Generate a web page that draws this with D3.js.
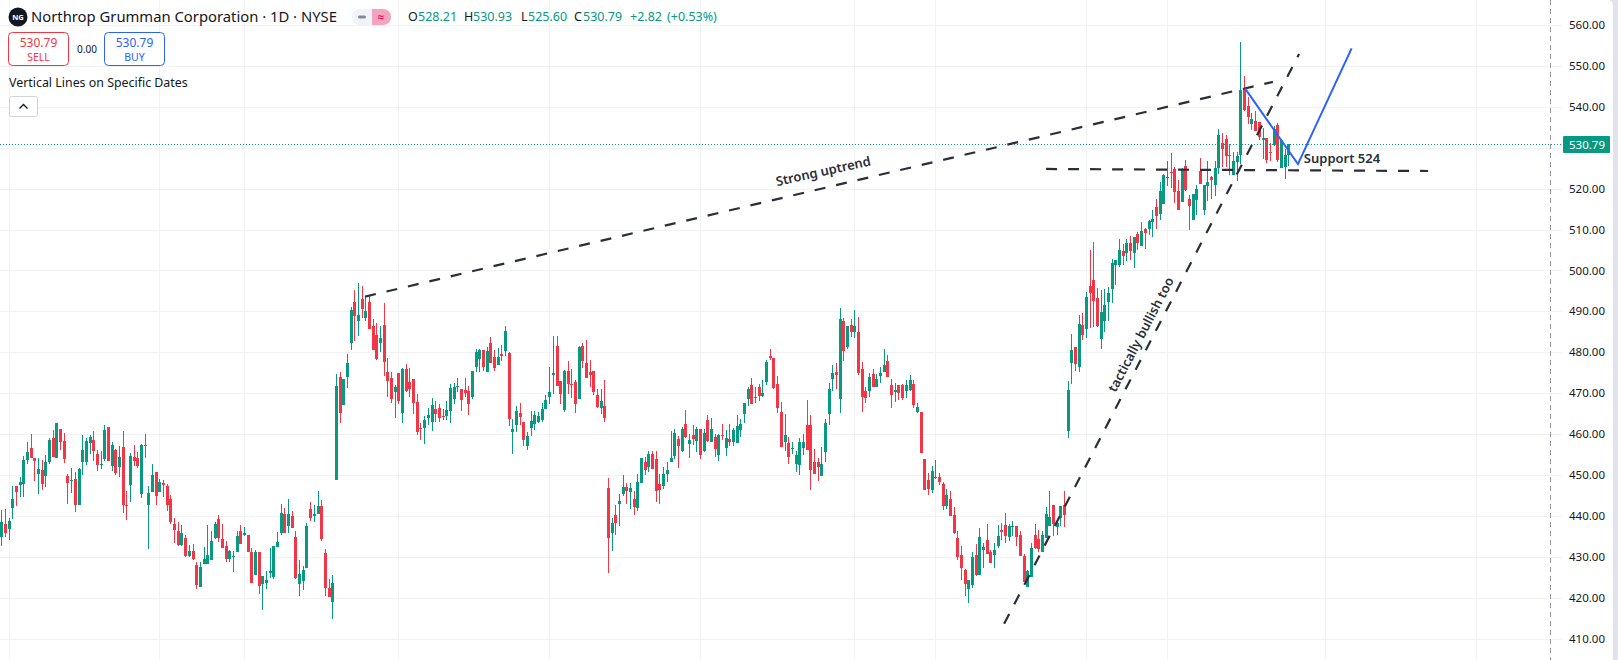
<!DOCTYPE html>
<html>
<head>
<meta charset="utf-8">
<script src="https://cdn.jsdelivr.net/npm/d3@7"></script>
<style>
    html, body { margin: 0; padding: 0; background: #e0e3eb; overflow: hidden; }
    svg { display: block; }
    text { font-family: "Noto Sans", Roboto, sans-serif; }
</style>
</head>
<body>
<svg id="main" width="1618" height="660"></svg>
<script>
// Price data, one bar per trading day
const opens = [
    434.9,438.0,436.8,442.0,447.3,447.6,447.8,453.7,456.6,454.2,
    450.3,451.2,449.8,453.2,459.1,454.2,461.3,458.3,449.8,448.5,
    449.0,442.7,453.2,453.2,457.8,458.6,455.2,452.5,453.9,461.8,
    452.2,456.1,452.0,456.9,442.7,447.6,454.4,454.2,445.4,457.4,
    442.7,445.9,450.8,445.9,448.1,447.3,444.2,438.0,436.3,432.9,
    434.6,430.2,431.4,428.0,422.6,428.3,428.3,429.2,434.6,439.3,
    434.4,432.7,429.5,430.0,431.2,436.3,435.3,435.3,431.2,425.6,
    431.2,423.4,423.6,426.0,425.1,432.4,435.8,440.5,437.5,440.0,
    434.9,423.4,424.1,427.3,441.7,440.0,440.5,442.4,430.9,422.4,
    419.0,448.8,474.0,467.2,474.0,482.3,492.3,487.7,493.1,488.4,
    492.3,486.5,484.3,482.3,486.7,475.2,473.8,470.3,475.0,465.2,
    476.0,472.8,473.5,467.9,461.5,461.5,464.0,463.0,466.2,466.4,
    464.5,464.5,465.7,468.6,471.6,471.1,470.8,470.6,469.1,476.4,
    478.4,480.6,475.2,482.3,478.9,476.9,479.6,480.4,479.9,460.6,
    462.3,465.2,463.0,457.0,461.5,462.5,463.0,463.5,466.2,469.1,
    474.5,481.6,473.0,465.9,475.5,472.3,472.8,468.6,481.6,477.4,
    475.2,475.5,469.6,466.4,466.9,446.7,435.7,440.1,442.8,445.3,
    447.0,445.7,444.0,441.8,448.0,453.1,451.9,455.1,453.9,447.7,
    447.2,450.2,453.1,454.6,458.8,455.8,462.4,457.5,459.7,458.2,
    461.2,455.8,463.4,458.0,459.2,454.8,459.7,456.5,458.7,458.0,
    457.8,461.0,464.9,468.6,472.0,469.1,471.5,469.3,472.7,479.1,
    478.6,472.2,465.4,458.0,457.8,456.3,452.6,452.4,456.5,462.2,
    462.2,453.1,453.1,449.7,455.6,464.9,473.5,475.2,468.6,487.7,
    481.3,486.7,485.0,485.0,475.9,470.5,470.5,474.7,471.5,474.2,
    475.2,477.9,472.0,470.3,472.0,472.0,470.6,470.8,472.3,465.4,
    465.4,454.0,448.8,446.4,449.3,449.5,447.8,442.5,444.2,440.3,
    434.6,430.5,426.8,422.2,423.1,430.5,425.6,431.7,434.2,431.2,
    430.5,432.7,436.6,437.8,434.9,437.2,437.4,435.4,430.2,422.7,
    425.1,435.4,434.4,431.2,434.6,437.6,442.7,437.3,439.5,442.7,
    460.8,477.4,481.3,476.5,486.7,485.7,496.2,497.7,493.3,483.3,
    487.7,492.3,495.5,501.4,501.4,504.8,504.3,506.7,504.3,508.9,
    506.0,510.1,510.1,511.9,515.5,513.8,516.3,522.6,524.0,524.8,
    519.4,516.7,525.5,517.4,512.3,517.2,524.3,514.8,520.6,522.8,
    520.9,525.0,531.1,532.1,528.2,523.3,526.5,528.2,544.7,540.1,
    535.7,536.5,536.2,531.8,532.3,528.9,530.6,535.5,525.0,525.2,528.21
];
const highs = [
    441.5,441.7,439.5,447.3,447.3,449.5,454.7,458.1,460.0,454.2,
    454.2,453.7,454.9,459.1,461.0,462.7,461.3,460.3,450.3,451.7,
    450.8,451.7,459.8,459.1,459.8,460.8,456.1,455.9,462.2,461.8,
    458.1,456.4,457.1,460.8,446.1,455.4,457.4,455.6,457.6,460.0,
    447.3,452.7,450.8,449.0,448.8,447.8,445.1,439.5,438.5,437.8,
    435.3,432.9,433.1,428.7,428.7,432.4,437.8,436.3,438.5,440.2,
    438.0,433.9,431.7,431.4,436.3,437.8,437.3,435.3,432.2,431.7,
    431.2,425.3,426.5,432.2,432.7,436.1,442.9,442.0,444.2,441.2,
    436.3,429.2,427.8,438.3,443.4,442.7,446.1,443.9,431.9,424.6,
    425.6,474.7,475.2,473.5,479.6,491.1,495.3,497.0,496.2,493.8,
    494.0,488.2,487.2,486.5,492.1,478.6,475.2,472.0,475.0,476.2,
    477.2,476.2,473.5,469.8,462.8,464.5,466.4,468.9,468.1,467.4,
    466.2,468.1,472.3,472.5,473.8,471.1,473.8,471.8,475.5,480.9,
    480.9,480.6,481.3,483.8,480.6,481.1,481.8,486.5,480.1,463.7,
    466.9,467.6,463.0,460.4,465.7,465.7,465.4,467.6,469.6,476.4,
    484.0,484.0,473.0,475.7,477.9,476.0,473.3,481.6,482.3,483.0,
    478.2,475.5,471.1,471.0,473.2,449.2,439.4,442.6,445.3,449.9,
    448.0,448.0,446.0,450.2,454.1,454.3,455.8,455.8,455.8,450.2,
    451.9,453.1,460.7,461.2,459.5,461.7,465.9,460.0,462.2,461.7,
    461.2,461.2,464.6,463.9,460.0,460.0,462.4,461.0,462.4,461.5,
    464.6,463.7,467.6,471.5,473.7,471.5,472.2,473.2,478.1,480.8,
    478.6,474.2,467.8,464.9,459.2,458.0,455.8,459.0,460.0,468.3,
    464.6,456.3,454.1,456.8,463.7,472.5,476.9,477.4,490.9,488.4,
    486.5,488.2,490.4,488.7,477.6,471.5,474.9,475.9,474.7,476.4,
    480.8,479.4,473.5,472.5,472.0,472.3,473.3,474.5,473.3,467.6,
    465.4,454.0,450.5,452.2,453.7,450.5,448.3,446.6,446.1,442.2,
    436.3,432.7,427.0,424.4,431.2,433.2,437.1,433.4,438.1,431.7,
    433.4,437.8,438.3,440.7,438.1,438.8,437.4,436.3,430.7,426.8,
    433.4,438.1,436.6,436.3,442.2,446.1,442.7,439.0,442.5,446.1,
    473.0,484.5,481.3,489.2,489.6,494.8,505.0,507.0,495.7,495.2,
    495.5,496.0,502.8,502.6,507.7,506.5,507.7,508.4,508.2,509.4,
    511.9,510.4,512.4,514.8,517.5,521.6,523.6,526.7,528.7,525.3,
    522.1,525.0,527.0,518.4,518.7,520.9,527.5,520.9,526.7,523.1,
    526.7,534.6,533.6,533.1,530.9,528.9,528.9,555.8,547.5,542.3,
    538.6,539.0,536.2,534.8,532.3,531.1,535.3,536.0,531.8,529.6,530.93
];
const lows = [
    432.7,434.9,434.0,439.1,442.3,444.5,444.5,452.7,454.2,448.6,
    445.4,446.4,447.1,452.7,454.4,454.2,456.1,453.0,442.9,445.6,
    441.0,442.7,450.0,452.5,455.2,453.4,451.0,451.5,453.4,453.4,
    451.0,450.0,449.5,440.7,439.0,443.4,452.2,451.7,444.4,454.2,
    431.9,445.9,442.7,445.9,444.6,441.2,438.0,433.4,432.7,432.7,
    430.0,430.0,429.2,422.1,422.6,428.3,428.3,429.2,434.4,433.6,
    432.2,428.7,428.7,426.3,431.2,433.1,435.1,431.2,423.6,425.6,
    420.9,417.0,422.1,424.8,424.6,432.4,435.3,435.8,435.8,437.1,
    424.6,420.4,421.9,427.3,438.8,438.5,440.5,433.9,420.4,420.2,
    414.8,448.8,462.8,467.2,471.3,480.6,482.8,484.0,488.4,487.7,
    485.7,480.6,478.2,480.1,474.2,469.1,467.6,464.0,467.4,462.8,
    470.3,469.1,465.0,459.8,458.6,457.5,462.3,460.8,463.0,463.0,
    463.5,463.5,462.8,467.4,470.3,465.7,469.1,464.7,468.6,475.2,
    475.2,475.5,475.2,477.4,475.5,476.9,477.9,479.1,462.0,455.1,
    460.6,462.3,457.0,456.0,459.4,461.0,462.8,463.0,466.2,467.4,
    469.8,471.8,467.4,465.4,469.8,468.9,465.2,468.6,476.2,473.8,
    471.6,469.6,466.4,464.9,462.9,426.0,431.5,435.2,437.4,444.8,
    442.8,441.6,440.3,441.1,448.0,449.9,450.7,451.4,443.3,443.0,
    446.5,448.2,453.1,453.9,451.6,455.6,459.0,454.1,457.3,455.6,
    453.9,455.6,458.0,458.0,454.3,453.4,458.5,454.6,457.0,457.0,
    457.8,459.2,462.7,466.8,467.3,467.6,468.1,469.1,472.0,478.1,
    471.0,465.1,456.8,455.8,452.6,455.1,450.6,449.9,454.8,456.0,
    446.3,450.2,448.5,449.7,453.1,462.2,470.5,471.0,465.1,477.9,
    480.8,483.8,483.5,474.5,465.4,467.6,469.1,471.5,471.5,472.5,
    475.2,474.0,466.4,467.8,468.3,468.4,468.9,470.4,466.4,465.2,
    455.4,446.4,445.1,445.6,449.1,447.6,441.5,441.7,440.0,435.6,
    429.3,424.4,420.5,418.7,422.4,425.3,425.6,427.3,430.7,428.5,
    427.3,432.2,434.2,433.4,433.9,435.1,432.7,430.2,423.9,422.7,
    425.1,432.0,431.2,431.2,434.6,437.6,435.1,435.4,437.4,437.3,
    459.1,472.3,475.5,475.2,483.0,483.5,486.0,486.2,486.2,480.9,
    485.0,487.7,492.1,496.5,500.9,501.4,502.3,502.6,500.6,505.0,
    506.0,505.3,508.7,508.2,510.2,512.3,516.3,520.6,520.1,516.5,
    514.8,516.7,519.4,509.9,512.3,513.5,521.1,513.5,517.0,517.4,
    518.2,523.6,525.3,525.3,523.3,523.3,521.9,526.0,539.0,535.7,
    534.4,534.0,531.8,527.2,526.2,526.8,530.4,526.4,525.0,522.3,525.60
];
const closes = [
    438.5,435.7,438.8,444.2,445.7,448.3,453.7,455.6,454.2,453.4,
    451.5,447.8,453.2,458.6,454.4,462.7,458.1,453.9,448.1,448.8,
    442.7,451.5,456.1,458.3,459.3,455.9,452.5,452.7,461.0,453.4,
    457.4,450.5,454.4,442.7,442.4,454.7,453.4,452.2,457.4,457.1,
    445.6,450.0,444.9,448.3,447.6,442.7,438.5,436.6,432.9,435.8,
    430.2,431.4,429.5,423.1,427.5,429.5,430.5,433.9,438.0,434.6,
    432.2,429.5,431.4,430.2,435.1,433.1,435.8,431.2,423.6,431.2,
    422.9,425.3,424.4,426.5,432.7,433.6,440.7,435.8,440.5,437.1,
    424.8,425.8,426.8,437.5,439.5,440.5,442.4,434.4,422.4,420.2,
    423.6,471.8,465.2,473.5,477.4,490.4,488.9,489.2,490.6,490.1,
    485.7,480.6,478.4,483.5,477.7,473.0,468.6,471.6,468.1,476.0,
    470.6,471.1,467.6,460.5,461.3,463.5,464.7,467.2,465.0,464.0,
    464.3,465.9,471.3,471.6,471.8,468.4,470.1,467.4,475.5,480.1,
    480.6,476.4,480.4,477.4,476.2,478.9,479.1,485.2,463.7,461.3,
    465.7,464.2,458.6,459.6,463.2,464.7,464.5,466.0,468.4,470.3,
    475.0,471.8,469.8,475.5,472.3,472.0,467.4,481.3,477.9,473.8,
    474.5,470.3,466.7,468.1,463.9,434.5,438.2,438.2,443.5,447.0,
    446.0,446.7,442.1,448.2,454.1,451.2,455.1,451.4,446.0,446.2,
    450.2,451.2,454.1,460.2,457.0,461.2,459.2,458.5,458.7,461.2,
    454.8,460.2,458.3,461.2,456.3,459.7,459.5,459.0,458.0,461.0,
    462.0,462.4,467.6,471.0,467.3,468.8,469.3,470.0,477.6,478.6,
    471.3,466.4,456.8,459.7,454.3,456.5,454.8,458.0,458.0,456.0,
    451.2,450.2,451.9,452.6,462.7,471.0,475.0,474.5,488.2,480.4,
    486.5,485.0,486.5,475.0,469.1,468.8,474.0,471.5,473.5,474.9,
    476.9,474.0,469.5,470.8,470.0,468.9,472.0,473.3,467.2,466.7,
    455.4,446.4,446.6,451.0,449.6,448.3,442.5,445.1,440.0,435.9,
    430.0,427.3,423.4,424.4,430.0,425.6,434.9,432.4,430.7,428.5,
    431.7,435.1,436.1,435.1,437.6,437.4,434.9,430.2,423.9,426.6,
    432.2,432.2,432.0,435.4,440.5,439.8,438.1,438.3,442.5,440.2,
    470.8,480.6,477.2,487.0,484.3,493.6,494.5,492.6,486.5,489.9,
    491.6,494.5,501.8,502.6,505.0,503.6,506.7,504.8,508.2,506.7,
    509.7,509.2,512.1,512.6,513.3,519.4,523.3,522.8,523.8,519.2,
    514.8,524.8,519.6,515.7,518.7,519.9,521.1,520.9,521.6,522.1,
    525.0,533.1,529.7,528.0,528.0,526.7,528.0,544.0,539.2,537.5,
    537.0,534.0,532.6,532.3,527.0,528.6,534.5,526.9,531.8,528.2,530.79
];

// Axis ticks and chart furniture, in bar and price units
const priceTicks = [560, 550, 540, 530, 520, 510, 500, 490, 480, 470, 460, 450, 440, 430, 420, 410];
const hiddenTick = 530;
const gridBars = [2, 43, 66, 108, 149, 190, 232, 254, 295, 317, 360, 401];
const cursorBar = 421;
const lastPrice = 530.79;

// Hand drawn lines as [bar, price]
const strongLine = [[98.8, 493.6], [345.7, 546.1]];
const bullishLine = [[272.6, 413.6], [352.8, 552.9]];
const supportLine = [[284, 524.8], [387.9, 524.3]];
const forecastLine = [[338.1, 544.5], [352.5, 526], [367.1, 554.3]];

// Labels on the chart as [bar, price, text, angle]
const chartLabels = [
    [210.8, 520.6, 'Strong uptrend', -12.5],
    [302.9, 470, 'tactically bullish too', -62.5],
    [354.1, 526.3, 'Support 524', 0]
];

const UP_COLOR = '#089981';
const DOWN_COLOR = '#f23645';
const GRID_COLOR = '#f1f2f4';
const INK_COLOR = '#131722';
const LINE_COLOR = '#2a2e39';
const BLUE_COLOR = '#2962ff';

const svg = d3.select('svg#main');

// Scales
const x = d3.scaleLinear().domain([0, closes.length - 1]).range([1.8, 1288.75]);
const y = d3.scaleLinear().domain([560, 410]).range([25, 638.5]);
const PANE_RIGHT = 1562;
const bars = d3.range(closes.length);

// White page with the rounded corner over the lavender edge
svg.append('rect')
    .attr('x', -10)
    .attr('y', 0)
    .attr('width', 1623)
    .attr('height', 670)
    .attr('rx', 5)
    .attr('fill', '#ffffff');

// Grid
svg.append('g')
    .selectAll('line')
    .data(priceTicks)
    .join('line')
    .attr('x1', 0)
    .attr('x2', PANE_RIGHT)
    .attr('y1', d => Math.round(y(d)) + 0.5)
    .attr('y2', d => Math.round(y(d)) + 0.5)
    .attr('stroke', GRID_COLOR);

svg.append('g')
    .selectAll('line')
    .data(gridBars)
    .join('line')
    .attr('x1', d => Math.floor(x(d)) + 0.5)
    .attr('x2', d => Math.floor(x(d)) + 0.5)
    .attr('y1', 0)
    .attr('y2', 660)
    .attr('stroke', GRID_COLOR);

// Cursor line
svg.append('line')
    .attr('x1', Math.floor(x(cursorBar)) + 1.5)
    .attr('x2', Math.floor(x(cursorBar)) + 1.5)
    .attr('y1', 0)
    .attr('y2', 660)
    .attr('stroke', '#9598a1')
    .attr('stroke-dasharray', '5 4');

// Candles
function barColor(i) {
    return closes[i] >= opens[i] ? UP_COLOR : DOWN_COLOR;
}

const candles = svg.append('g').attr('shape-rendering', 'crispEdges');

candles.selectAll('rect.wick')
    .data(bars)
    .join('rect')
    .attr('class', 'wick')
    .attr('x', i => Math.floor(x(i)))
    .attr('y', i => Math.round(y(highs[i])))
    .attr('width', 1)
    .attr('height', i => Math.max(1, Math.round(y(lows[i])) - Math.round(y(highs[i]))))
    .attr('fill', barColor);

candles.selectAll('rect.body')
    .data(bars)
    .join('rect')
    .attr('class', 'body')
    .attr('x', i => Math.floor(x(i)) - 1)
    .attr('y', i => Math.round(y(Math.max(opens[i], closes[i]))))
    .attr('width', 3)
    .attr('height', i => Math.max(1, Math.round(y(Math.min(opens[i], closes[i]))) - Math.round(y(Math.max(opens[i], closes[i])))))
    .attr('fill', barColor);

// Last price line
svg.append('line')
    .attr('x1', 0)
    .attr('x2', PANE_RIGHT + 1)
    .attr('y1', Math.floor(y(lastPrice)) + 0.5)
    .attr('y2', Math.floor(y(lastPrice)) + 0.5)
    .attr('stroke', UP_COLOR)
    .attr('stroke-dasharray', '1 2');

// Drawings
const drawLine = d3.line().x(d => x(d[0])).y(d => y(d[1]));

[strongLine, bullishLine, supportLine].forEach(points => {
    svg.append('path')
        .attr('d', drawLine(points))
        .attr('fill', 'none')
        .attr('stroke', LINE_COLOR)
        .attr('stroke-width', 2.2)
        .attr('stroke-dasharray', '11 11');
});

svg.append('path')
    .attr('d', drawLine(forecastLine))
    .attr('fill', 'none')
    .attr('stroke', BLUE_COLOR)
    .attr('stroke-width', 2);

svg.append('g')
    .selectAll('text')
    .data(chartLabels)
    .join('text')
    .attr('transform', d => `translate(${x(d[0])},${y(d[1])}) rotate(${d[3]})`)
    .attr('font-size', 13)
    .attr('font-weight', 600)
    .attr('fill', LINE_COLOR)
    .text(d => d[2]);

// Price axis
const priceAxis = d3.axisRight(y)
    .tickValues(priceTicks.filter(d => d !== hiddenTick))
    .tickFormat(d => d.toFixed(2))
    .tickSize(0)
    .tickPadding(0);

const axisGroup = svg.append('g')
    .attr('transform', 'translate(1605,0)')
    .call(priceAxis);

axisGroup.select('.domain').remove();
axisGroup.selectAll('text')
    .attr('text-anchor', 'end')
    .attr('font-size', 11.5)
    .attr('font-family', 'Roboto')
    .attr('fill', INK_COLOR);

svg.append('rect')
    .attr('x', 1563)
    .attr('y', 136)
    .attr('width', 47)
    .attr('height', 17)
    .attr('rx', 1)
    .attr('fill', UP_COLOR);

svg.append('text')
    .attr('x', 1605)
    .attr('y', 149)
    .attr('text-anchor', 'end')
    .attr('font-size', 11.5)
    .attr('font-family', 'Roboto')
    .attr('fill', '#ffffff')
    .text(lastPrice.toFixed(2));

// Legend header
function addText(px, py, value, size, color, anchor) {
    return svg.append('text')
        .attr('x', px)
        .attr('y', py)
        .attr('font-size', size)
        .attr('fill', color)
        .attr('text-anchor', anchor || 'start')
        .text(value);
}

svg.append('circle')
    .attr('cx', 18)
    .attr('cy', 17)
    .attr('r', 9.5)
    .attr('fill', '#131722');
addText(18, 20, 'NG', 7.5, '#ffffff', 'middle').attr('font-weight', 700);

addText(31, 22, 'Northrop Grumman Corporation · 1D · NYSE', 14.8, INK_COLOR);

// Status pill
svg.append('rect')
    .attr('x', 352)
    .attr('y', 9)
    .attr('width', 39)
    .attr('height', 16)
    .attr('rx', 8)
    .attr('fill', '#f0f3fa');
svg.append('path')
    .attr('d', 'M372,9h11a8,8 0 0 1 0,16h-11z')
    .attr('fill', '#f5a3bf');
svg.append('rect')
    .attr('x', 358)
    .attr('y', 15.5)
    .attr('width', 8)
    .attr('height', 3)
    .attr('rx', 1.5)
    .attr('fill', '#868993');
addText(381, 21, '≈', 12, '#e91e63', 'middle').attr('font-weight', 700);

// OHLC readout
const ohlcParts = [
    [408, 'O', INK_COLOR], [418, '528.21', UP_COLOR],
    [464, 'H', INK_COLOR], [473, '530.93', UP_COLOR],
    [521, 'L', INK_COLOR], [528, '525.60', UP_COLOR],
    [574, 'C', INK_COLOR], [583, '530.79', UP_COLOR],
    [630, '+2.82', UP_COLOR], [667, '(+0.53%)', UP_COLOR]
];
ohlcParts.forEach(d => addText(d[0], 21, d[1], 12.5, d[2]).attr('font-family', 'Roboto'));

// Trade buttons
function tradeBox(left, color, price, label) {
    svg.append('rect')
        .attr('x', left + 0.5)
        .attr('y', 32.5)
        .attr('width', 60)
        .attr('height', 33)
        .attr('rx', 4)
        .attr('fill', '#ffffff')
        .attr('stroke', color);
    addText(left + 30.5, 47, price, 12, color, 'middle');
    addText(left + 30.5, 61, label, 10.5, color, 'middle');
}

tradeBox(8, DOWN_COLOR, '530.79', 'SELL');
tradeBox(104, BLUE_COLOR, '530.79', 'BUY');
addText(87, 53, '0.00', 10, INK_COLOR, 'middle');

addText(9, 87, 'Vertical Lines on Specific Dates', 12.4, INK_COLOR);

// Collapse button
svg.append('rect')
    .attr('x', 9.5)
    .attr('y', 96.5)
    .attr('width', 28)
    .attr('height', 20)
    .attr('rx', 2)
    .attr('fill', '#ffffff')
    .attr('stroke', '#d1d4dc');
svg.append('path')
    .attr('d', 'M19.5,108.5l4,-4l4,4')
    .attr('fill', 'none')
    .attr('stroke', INK_COLOR)
    .attr('stroke-width', 1.3);
</script>
</body>
</html>
